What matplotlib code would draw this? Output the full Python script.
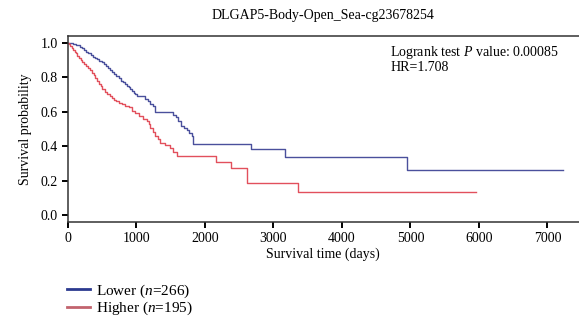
import matplotlib.pyplot as plt

plt.rcParams['font.family'] = ['Liberation Serif', 'DejaVu Serif']
plt.rcParams['mathtext.fontset'] = 'custom'
plt.rcParams['mathtext.it'] = 'Liberation Serif:italic'
plt.rcParams['mathtext.rm'] = 'Liberation Serif'

title = "DLGAP5-Body-Open_Sea-cg23678254"

# Lower group (n=266)
lower_t = [0, 40, 80, 120, 150, 180, 210, 240, 270, 300, 333, 365, 400, 430,
           460, 502, 530, 560, 590, 623, 650, 680, 710, 744, 770, 800, 830,
           860, 890, 913, 940, 960, 985, 1010, 1130, 1170, 1203, 1240, 1275,
           1517, 1541, 1575, 1614, 1648, 1690, 1734, 1770, 1807, 1831, 2676,
           3174, 4955, 7227]
lower_s = [1.0, 0.996, 0.992, 0.988, 0.983, 0.975, 0.966, 0.957, 0.948, 0.938,
           0.928, 0.918, 0.91, 0.902, 0.894, 0.885, 0.875, 0.862, 0.85, 0.84,
           0.83, 0.818, 0.805, 0.792, 0.78, 0.77, 0.76, 0.75, 0.74, 0.73,
           0.72, 0.71, 0.7, 0.69, 0.675, 0.663, 0.645, 0.632, 0.598, 0.598,
           0.58, 0.567, 0.548, 0.515, 0.504, 0.494, 0.475, 0.456, 0.414,
           0.383, 0.339, 0.263, 0.263]

# Higher group (n=195)
higher_t = [0, 15, 35, 55, 80, 100, 116, 140, 165, 188, 215, 240, 261, 290,
            320, 357, 380, 405, 430, 455, 480, 502, 540, 575, 610, 640, 672,
            710, 750, 792, 840, 889, 937, 985, 1034, 1095, 1155, 1180, 1203,
            1240, 1275, 1310, 1348, 1420, 1493, 1540, 1589, 2169, 2386, 2618,
            3353, 5961]
higher_s = [1.0, 0.99, 0.98, 0.97, 0.958, 0.948, 0.938, 0.924, 0.91, 0.9,
            0.888, 0.877, 0.866, 0.853, 0.84, 0.826, 0.81, 0.794, 0.778, 0.762,
            0.746, 0.73, 0.714, 0.7, 0.69, 0.68, 0.67, 0.66, 0.651, 0.642,
            0.635, 0.628, 0.603, 0.59, 0.575, 0.56, 0.546, 0.527, 0.507, 0.483,
            0.46, 0.44, 0.42, 0.408, 0.389, 0.367, 0.345, 0.308, 0.276, 0.188,
            0.134, 0.134]

fig = plt.figure(figsize=(5.79, 3.21), dpi=100)
ax = fig.add_axes([0.117, 0.307, 0.883, 0.582])

l1, = ax.step(lower_t, lower_s, where='post', color='#4a509c', lw=1.0,
              label='Lower ($n$=266)')
l2, = ax.step(higher_t, higher_s, where='post', color='#e2505c', lw=1.0,
              label='Higher ($n$=195)')

ax.set_xlim(0, 7460)
ax.set_ylim(-0.042, 1.04)
ax.set_xticks([0, 1000, 2000, 3000, 4000, 5000, 6000, 7000])
ax.set_yticks([0.0, 0.2, 0.4, 0.6, 0.8, 1.0])
ax.set_yticklabels(['0.0', '0.2', '0.4', '0.6', '0.8', '1.0'])
ax.tick_params(direction='out', length=4, width=1.4, labelsize=10, pad=3)
for s in ['left', 'bottom', 'top']:
    ax.spines[s].set_linewidth(1.1)
    ax.spines[s].set_color('#333333')
ax.spines['right'].set_visible(False)

ax.set_xlabel('Survival time (days)', fontsize=10, labelpad=2)
ax.set_ylabel('Survival probability', fontsize=10, labelpad=6)
ax.set_title(title, fontsize=10, pad=12)

ax.text(0.631, 0.955, 'Logrank test $P$ value: 0.00085', transform=ax.transAxes,
        fontsize=10, va='top', ha='left')
ax.text(0.631, 0.865, 'HR=1.708', transform=ax.transAxes,
        fontsize=10, va='top', ha='left')

leg = fig.legend(handles=[l1, l2], loc='upper left', bbox_to_anchor=(0.115, 0.12),
                 frameon=False, fontsize=11, handlelength=1.5, handletextpad=0.45,
                 labelspacing=0.0, borderaxespad=0, borderpad=0)
leg.get_lines()[0].set_color('#2b3a8f')
leg.get_lines()[1].set_color('#c2636e')
for ln in leg.get_lines():
    ln.set_linewidth(2)

fig.savefig('out.png', dpi=100)
